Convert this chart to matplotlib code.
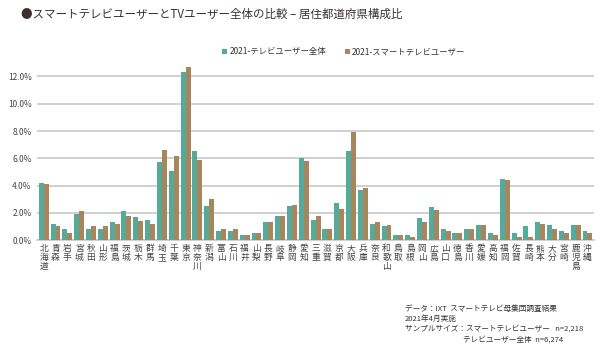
import matplotlib.pyplot as plt
import numpy as np

plt.rcParams['font.family'] = ['Noto Sans CJK JP', 'DejaVu Sans']

prefs = ['北海道', '青森', '岩手', '宮城', '秋田', '山形', '福島', '茨城', '栃木', '群馬',
         '埼玉', '千葉', '東京', '神奈川', '新潟', '富山', '石川', '福井', '山梨', '長野',
         '岐阜', '静岡', '愛知', '三重', '滋賀', '京都', '大阪', '兵庫', '奈良', '和歌山',
         '鳥取', '島根', '岡山', '広島', '山口', '徳島', '香川', '愛媛', '高知', '福岡',
         '佐賀', '長崎', '熊本', '大分', '宮崎', '鹿児島', '沖縄']

# % share
tv_all = [4.2, 1.2, 0.8, 1.9, 0.8, 0.8, 1.3, 2.1, 1.7, 1.5,
          5.7, 5.1, 12.3, 6.5, 2.5, 0.7, 0.7, 0.4, 0.5, 1.3,
          1.8, 2.5, 6.0, 1.5, 0.8, 2.7, 6.5, 3.7, 1.2, 1.0,
          0.4, 0.4, 1.6, 2.4, 0.8, 0.5, 0.8, 1.1, 0.5, 4.5,
          0.5, 1.0, 1.3, 1.1, 0.7, 1.1, 0.7]
smart_tv = [4.1, 1.0, 0.5, 2.1, 1.0, 1.0, 1.2, 1.8, 1.4, 1.2,
            6.6, 6.2, 12.7, 5.9, 3.0, 0.8, 0.8, 0.4, 0.5, 1.3,
            1.8, 2.6, 5.8, 1.8, 0.8, 2.3, 7.9, 3.8, 1.3, 1.1,
            0.4, 0.2, 1.3, 2.2, 0.7, 0.5, 0.8, 1.1, 0.4, 4.4,
            0.2, 0.2, 1.2, 0.8, 0.5, 1.1, 0.5]

teal = '#55aa9a'
brown = '#a8865d'

fig = plt.figure(figsize=(6, 3.51), dpi=100)
ax = fig.add_axes([0.062, 0.316, 0.928, 0.505])

x = np.arange(len(prefs))
w = 0.42
ax.bar(x - w / 2, tv_all, w, color=teal, label='2021-テレビユーザー全体', zorder=3)
ax.bar(x + w / 2, smart_tv, w, color=brown, label='2021-スマートテレビユーザー', zorder=3)

ax.set_xlim(-0.55, len(prefs) - 0.45)
ax.set_ylim(0, 13)
ax.set_yticks(np.arange(0, 13, 2))
ax.set_yticklabels([f'{v:.1f}%' for v in range(0, 13, 2)], fontsize=6, color='#444444')
ax.yaxis.grid(True, color='#c8c8c8', linewidth=1.2, zorder=0)
for s in ['top', 'right', 'left']:
    ax.spines[s].set_visible(False)
ax.spines['bottom'].set_color('#c8c8c8')
ax.spines['bottom'].set_linewidth(1.2)
ax.tick_params(axis='y', length=0, pad=4)
ax.tick_params(axis='x', length=0, pad=3)
ax.set_xticks(x)
ax.set_xticklabels(['\n'.join(p) for p in prefs], fontsize=6.3, color='#444444',
                   linespacing=0.95, va='top')

fig.legend(loc='center', bbox_to_anchor=(0.573, 0.852), ncol=2, frameon=False,
           fontsize=6, handlelength=0.6, handleheight=0.6, handletextpad=0.3,
           columnspacing=2.2, labelcolor='#333333')

fig.text(0.035, 0.958, '●スマートテレビユーザーとTVユーザー全体の比較 – 居住都道府県構成比',
         fontsize=8.3, color='#3a3030', va='center')

fig.text(0.675, 0.13, 'データ：IXT  スマートテレビ母集団調査結果\n2021年4月実施\n'
         'サンプルサイズ：スマートテレビユーザー   n=2,218',
         fontsize=5.5, color='#333333', va='top', linespacing=1.3)
fig.text(0.772, 0.045, 'テレビユーザー全体  n=6,274', fontsize=5.5, color='#333333', va='top')

fig.savefig('out.png', dpi=100)
